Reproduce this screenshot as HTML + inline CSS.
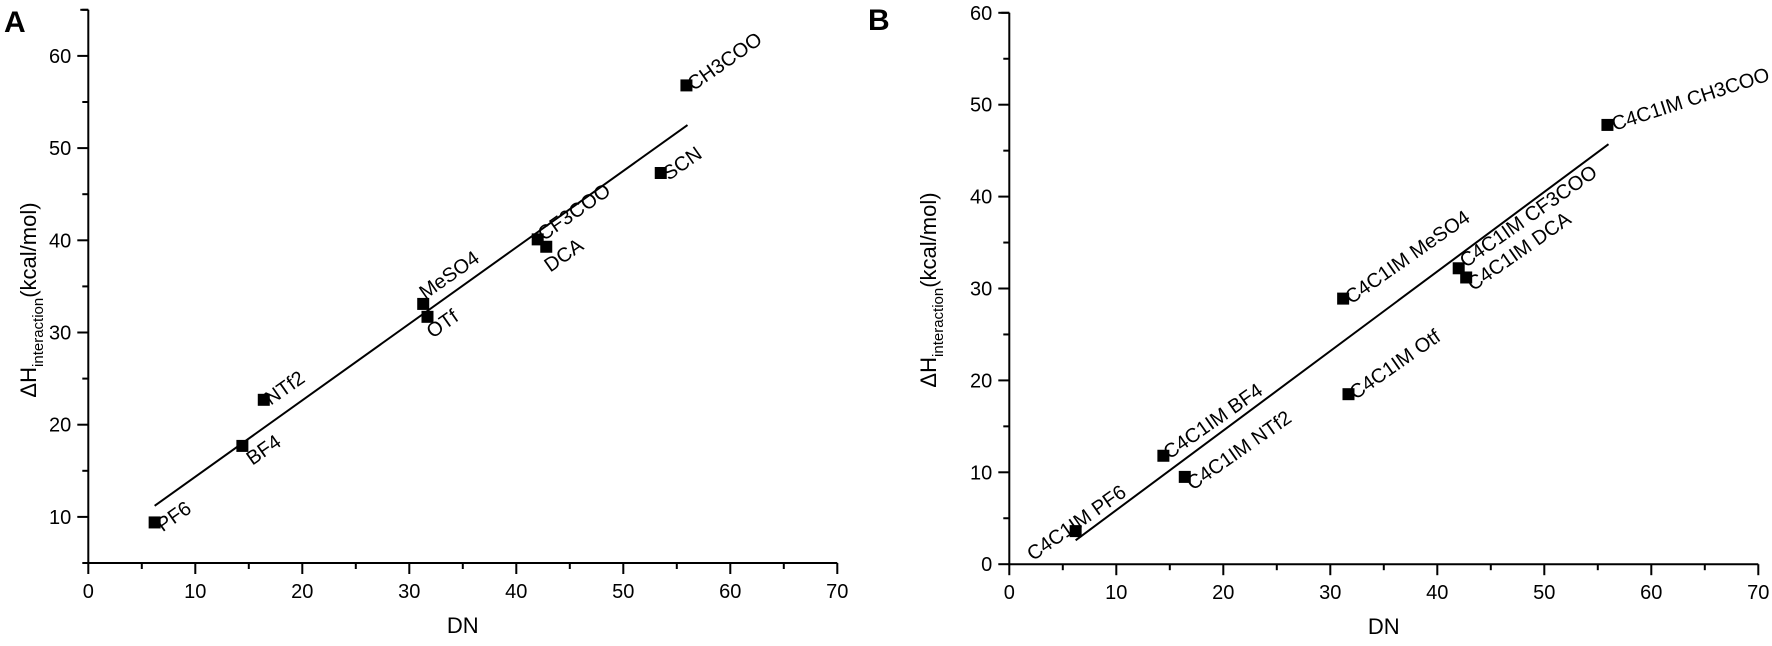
<!DOCTYPE html>
<html><head><meta charset="utf-8">
<style>
html,body{margin:0;padding:0;background:#fff;}
svg{display:block;font-family:"Liberation Sans",Arial,sans-serif;}
</style></head>
<body>
<svg id="c" width="1772" height="646" viewBox="0 0 1772 646" xmlns="http://www.w3.org/2000/svg"></svg>
<script>
const NS="http://www.w3.org/2000/svg";
// Panel A data
const aLabels=["PF6","BF4","NTf2","MeSO4","OTf","CF3COO","DCA","SCN","CH3COO"];
const aDN=[6.2,14.4,16.4,31.3,31.7,42.0,42.8,53.5,55.9];
const aH=[9.4,17.7,22.7,33.1,31.7,40.1,39.3,47.3,56.8];
const aFitX=[6.2,56.0];
const aFitY=[11.2,52.5];
// Panel B data
const bLabels=["C4C1IM PF6","C4C1IM BF4","C4C1IM NTf2","C4C1IM MeSO4","C4C1IM Otf","C4C1IM CF3COO","C4C1IM DCA","C4C1IM CH3COO"];
const bDN=[6.2,14.4,16.4,31.2,31.7,42.0,42.7,55.9];
const bH=[3.6,11.8,9.5,28.9,18.5,32.2,31.2,47.8];
const bFitX=[6.2,56.0];
const bFitY=[2.6,45.7];
const xTicks=[0,10,20,30,40,50,60,70];
const aYTicks=[10,20,30,40,50,60];
const bYTicks=[0,10,20,30,40,50,60];

const svg=document.getElementById('c');
function el(tag,attrs,parent){const e=document.createElementNS(NS,tag);for(const k in attrs)e.setAttribute(k,attrs[k]);(parent||svg).appendChild(e);return e;}

function panel(cfg){
  const g=el('g',{});
  
  
  const X=v=>cfg.x0+v*cfg.kx;
  const Y=v=>cfg.y0-(v-cfg.ymin)*cfg.ky;
  const axBot=Y(cfg.ymin), axTop=Y(cfg.ymax);
  const xa=el('line',{x1:X(0),y1:axBot,x2:X(70),y2:axBot,stroke:'#000','stroke-width':2},g);
  
  
  const ya=el('line',{x1:X(0),y1:axBot+1,x2:X(0),y2:axTop,stroke:'#000','stroke-width':2},g);
  
  
  el('line',{x1:X(0)-8,y1:axTop,x2:X(0),y2:axTop,stroke:'#000','stroke-width':2},g);
  for(let v=0;v<=70;v+=5){
    const major=v%10===0;
    el('line',{x1:X(v),y1:axBot,x2:X(v),y2:axBot+(major?11:6),stroke:'#000','stroke-width':2},g);
  }
  xTicks.forEach(v=>{
    const t=el('text',{x:X(v),y:axBot+35,'font-size':20,'text-anchor':'middle'},g);
    t.textContent=v;
    
    
  });
  for(let v=cfg.ymin;v<=cfg.ymax;v+=5){
    const major=v%10===0;
    el('line',{x1:X(0),y1:Y(v),x2:X(0)-(major?11:6),y2:Y(v),stroke:'#000','stroke-width':2},g);
  }
  cfg.yTicks.forEach(v=>{
    const t=el('text',{x:X(0)-17,y:Y(v)+7,'font-size':20,'text-anchor':'end'},g);
    t.textContent=v;
    
    
  });
  const xt=el('text',{x:X(35),y:axBot+70,'font-size':22,'text-anchor':'middle'},g);
  xt.textContent='DN';
  
  
  const yt=el('text',{transform:`translate(${cfg.ytx},${cfg.yty}) rotate(-90)`,'font-size':22,'text-anchor':'middle'},g);
  yt.innerHTML='ΔH<tspan font-size="15" dy="7">interaction</tspan><tspan dy="-7">(kcal/mol)</tspan>';
  
  
  const pl=el('text',{x:cfg.lx,y:cfg.ly,'font-size':30,'font-weight':'bold'},g);
  pl.textContent=cfg.letter;
  
  
  const fl=el('line',{x1:X(cfg.fx[0]),y1:Y(cfg.fy[0]),x2:X(cfg.fx[1]),y2:Y(cfg.fy[1]),stroke:'#000','stroke-width':2},g);
  
  
  cfg.dn.forEach((d,i)=>{
    const px=X(d),py=Y(cfg.h[i]);
    const r=el('rect',{x:px-6,y:py-6,width:12,height:12,fill:'#000'},g);
    
    
    const o=cfg.off[i];
    const t=el('text',{transform:`translate(${px+o[0]},${py+o[1]}) rotate(${o[2]})`,'font-size':20,'text-anchor':o[3]||'start'},g);
    t.textContent=cfg.labels[i];
    
    
  });
}

panel({name:'panel-a',letter:'A',lx:4,ly:32,x0:88.3,kx:10.7,y0:563,ymin:5,ymax:65,ky:9.22,
  yTicks:aYTicks,dn:aDN,h:aH,labels:aLabels,fx:aFitX,fy:aFitY,ytx:36,yty:300,
  off:[[8,10,-35],[10,20,-35],[7,6,-35],[2,-4,-35],[5,22,-35],[6,2,-35],[4,26,-35],[8,8,-35],[7,6,-35]]});
panel({name:'panel-b',letter:'B',lx:868,ly:30,x0:1009.3,kx:10.7,y0:564.2,ymin:0,ymax:60,ky:9.19,
  yTicks:bYTicks,dn:bDN,h:bH,labels:bLabels,fx:bFitX,fy:bFitY,ytx:936,yty:290,
  off:[[52,-36,-35,'end'],[6,4,-35],[8,14,-35],[8,6,-35],[7,6,-35],[7,0,-35],[7,14,-35],[7,6,-18]]});
</script>
</body></html>
